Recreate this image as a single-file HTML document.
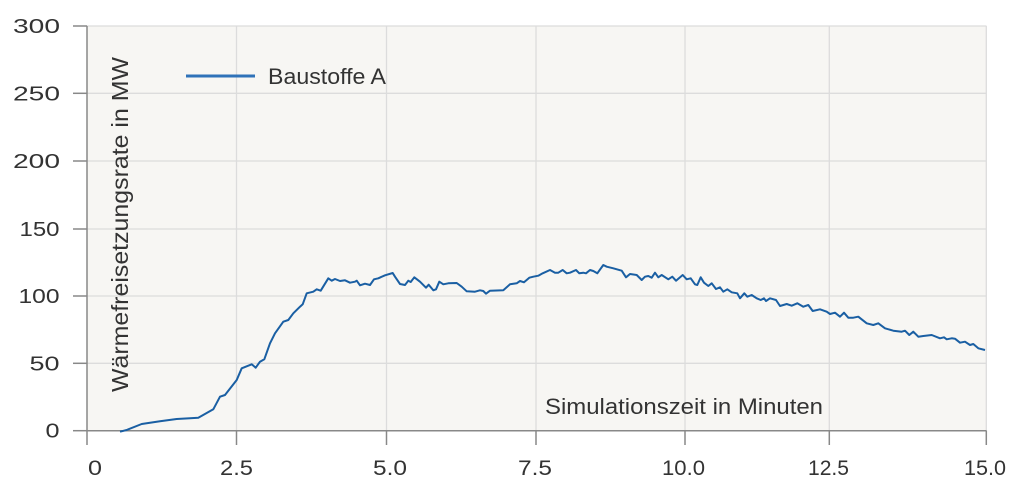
<!DOCTYPE html>
<html><head><meta charset="utf-8"><style>
html,body{margin:0;padding:0;background:#fff;}
svg{display:block;}
text{font-family:"Liberation Sans",sans-serif;fill:#333;}
</style></head><body>
<svg width="1024" height="496" viewBox="0 0 1024 496" xmlns="http://www.w3.org/2000/svg">
<rect x="87" y="26" width="899.5" height="404.7" fill="#f7f6f3"/>
<g stroke="#dcdcdc" stroke-width="1.3" fill="none">
<line x1="87" y1="26" x2="986.5" y2="26"/>
<line x1="87" y1="93.3" x2="986.5" y2="93.3"/>
<line x1="87" y1="161" x2="986.5" y2="161"/>
<line x1="87" y1="229" x2="986.5" y2="229"/>
<line x1="87" y1="296" x2="986.5" y2="296"/>
<line x1="87" y1="363.3" x2="986.5" y2="363.3"/>
<line x1="236.5" y1="26" x2="236.5" y2="430.7"/>
<line x1="386.5" y1="26" x2="386.5" y2="430.7"/>
<line x1="536" y1="26" x2="536" y2="430.7"/>
<line x1="685" y1="26" x2="685" y2="430.7"/>
<line x1="829.3" y1="26" x2="829.3" y2="430.7"/>
<line x1="986.3" y1="26" x2="986.3" y2="430.7"/>
</g>
<g stroke="#888" stroke-width="1.5" fill="none">
<line x1="87" y1="26" x2="87" y2="431"/>
<line x1="87" y1="430.7" x2="986.5" y2="430.7"/>
<line x1="73" y1="26" x2="87" y2="26"/>
<line x1="73" y1="93.3" x2="87" y2="93.3"/>
<line x1="73" y1="161" x2="87" y2="161"/>
<line x1="73" y1="229" x2="87" y2="229"/>
<line x1="73" y1="296" x2="87" y2="296"/>
<line x1="73" y1="363.3" x2="87" y2="363.3"/>
<line x1="73" y1="430.7" x2="87" y2="430.7"/>
<line x1="87" y1="430.7" x2="87" y2="445"/>
<line x1="236.5" y1="430.7" x2="236.5" y2="445"/>
<line x1="386.5" y1="430.7" x2="386.5" y2="445"/>
<line x1="536" y1="430.7" x2="536" y2="445"/>
<line x1="685" y1="430.7" x2="685" y2="445"/>
<line x1="829.3" y1="430.7" x2="829.3" y2="445"/>
<line x1="986.3" y1="430.7" x2="986.3" y2="445"/>
</g>
<g font-size="20" text-anchor="end">
<text x="60" y="33" textLength="47" lengthAdjust="spacingAndGlyphs">300</text>
<text x="60" y="100.3" textLength="47" lengthAdjust="spacingAndGlyphs">250</text>
<text x="60" y="168" textLength="47" lengthAdjust="spacingAndGlyphs">200</text>
<text x="59.5" y="236" textLength="40" lengthAdjust="spacingAndGlyphs">150</text>
<text x="59.5" y="303" textLength="41" lengthAdjust="spacingAndGlyphs">100</text>
<text x="59.5" y="370.3" textLength="30" lengthAdjust="spacingAndGlyphs">50</text>
<text x="59.5" y="437.7" textLength="14" lengthAdjust="spacingAndGlyphs">0</text>
</g>
<g font-size="21" text-anchor="middle">
<text x="95" y="475" textLength="14" lengthAdjust="spacingAndGlyphs">0</text>
<text x="236.5" y="475" textLength="33" lengthAdjust="spacingAndGlyphs">2.5</text>
<text x="390" y="475" textLength="34" lengthAdjust="spacingAndGlyphs">5.0</text>
<text x="535" y="475" textLength="34" lengthAdjust="spacingAndGlyphs">7.5</text>
<text x="683.5" y="475" textLength="43" lengthAdjust="spacingAndGlyphs">10.0</text>
<text x="828.5" y="475" textLength="41" lengthAdjust="spacingAndGlyphs">12.5</text>
<text x="985" y="475" textLength="42" lengthAdjust="spacingAndGlyphs">15.0</text>
</g>
<text x="545" y="414" font-size="22" textLength="278" lengthAdjust="spacingAndGlyphs">Simulationszeit in Minuten</text>
<text transform="translate(128,392) rotate(-90)" x="0" y="0" font-size="23" textLength="335" lengthAdjust="spacingAndGlyphs">Wärmefreisetzungsrate in MW</text>
<line x1="186" y1="76" x2="255" y2="76" stroke="#2f72b8" stroke-width="3"/>
<text x="268" y="84" font-size="22" textLength="118" lengthAdjust="spacingAndGlyphs">Baustoffe A</text>
<polyline fill="none" stroke="#1a5fa3" stroke-width="2" stroke-linejoin="round" points="
120,431.7 126.7,430 141.7,424 160,421.3 176.7,419 190,418.3 198.3,417.7 213.3,409.3 220,396.7 225,395 236.7,380 241.7,368.3 251.7,364.3 255.7,367.7 260,361.7 264.3,359.3 270,343.3 275,333.3 283.3,321.7 288.3,320 293.3,313.3 300,306.7 302.7,304.3 306.7,293.3 313.3,291.7 316.7,289.3 320.7,290.7 328.3,278.3 331.7,280.7 335,279 340,281 345,280.3 350,282.7 355,281.7 356.7,280.7 360,285.3 365,283.7 370,285 374,279.3 378.3,278.3 385,275.3 392.7,273 395,276.7 400,284 405,285 408.3,280.7 410.7,282 414.3,277.3 420,281.7 426,287.7 428.7,284.7 433.3,290.3 436,289.3 439.3,281.7 443.3,284.3 448.3,283.3 456.7,283 461.7,286.7 466.7,291.3 475,291.7 480,290.3 483.3,291 486,293.7 490,290.7 503.3,290.3 510,284.3 516.7,283.3 520,281 524,282.3 529.3,277.7 533.3,276.7 538.3,275.7 542.7,273.3 550,270 555,272.7 558.3,272.7 562.7,270 566.7,273.3 570,272.7 576,270 579.3,273.3 583.3,272.7 586,273.3 590,270 593.3,271 597.3,273.3 603.3,265 606.7,266.7 613.3,268.3 621.7,270.7 626,277.3 630,274 636.7,275 641.7,280 645,276.7 648.3,276 651.7,277.7 655,272.7 658.3,277.3 661.7,275 668.3,279.3 672.3,276.7 676,280.7 682.7,275 686.7,279.3 690.7,278.3 695,284.3 697.3,285 700.7,277.3 704,282.7 708.3,286 711.7,283.3 716,289 720,287.3 723.3,291.7 727.3,289.3 731.7,292.3 737.3,293.3 740,298.3 744.3,293.3 747.3,296.7 751.7,295 756.7,298.3 760.7,300 764,298.3 766,301 770,298.3 776,300 780,306 786.7,304 791.7,305.7 797.3,303.3 803.3,306.7 808.3,305 812.7,311 820,309.3 826.7,311.7 830,314 835,312.7 840,316.7 844,312.7 848.3,317.7 853.3,317.7 858.3,316.7 866.7,323.3 873.3,325 878.3,323.3 885,328.3 893.3,330.7 901.7,331.7 905,330.7 909.3,335 913.3,331.7 918.3,336.7 923.3,336 931.7,335 940,338.3 944,337.3 946.7,339.3 951.7,338.3 955,338.7 960,342.7 965,341.7 970,345 973.3,344 978.3,348.3 985,350"/>
</svg>
</body></html>
